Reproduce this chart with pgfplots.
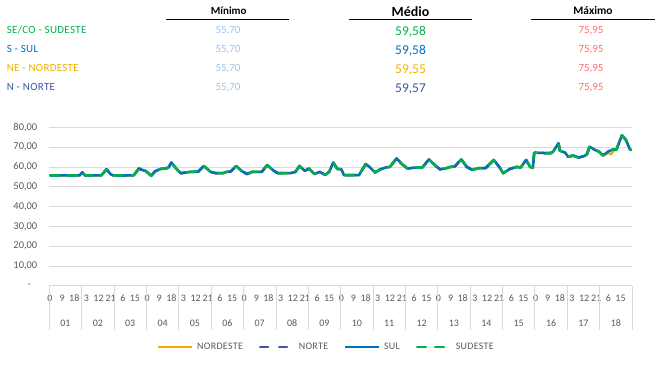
\documentclass[border=0pt]{standalone}
\usepackage{fontspec}
\setmainfont{Carlito}
\newfontfamily\spaced{Carlito}[LetterSpace=3]
\usepackage{pgfplots}
\pgfplotsset{compat=1.18}
\usepackage{pgfplotstable}

\definecolor{cse}{HTML}{00B050}
\definecolor{cs}{HTML}{0070C0}
\definecolor{cne}{HTML}{F0B000}
\definecolor{cn}{HTML}{3A56A4}
\definecolor{cmin}{HTML}{9DC3E6}
\definecolor{cmax}{HTML}{FF6B6B}
\definecolor{ctick}{HTML}{595959}
\definecolor{cgrid}{HTML}{D9D9D9}

\pgfplotstableread{
h ne n s se
0 55.7 55.7 55.7 55.7
22 55.7 55.7 55.7 55.7
24 57.3 57.3 57.3 57.3
26 55.7 55.7 55.7 55.7
38 55.7 55.7 55.7 55.7
42 58.8 58.8 58.8 58.8
45 56.3 56.3 56.3 56.3
47 55.7 55.7 55.7 55.7
62 55.7 55.7 55.7 55.7
66 59.2 59.2 59.2 59.2
69 58.3 58.3 58.3 58.3
71 58.0 58.0 58.0 58.0
75 55.5 55.5 55.5 55.5
78 57.8 57.8 57.8 57.8
82 59.0 59.0 59.0 59.0
86 59.2 59.2 59.2 59.2
88 59.8 59.8 59.8 59.8
90 62.2 62.2 62.2 62.2
94 58.8 58.8 58.8 58.8
97 56.8 56.8 56.8 56.8
104 57.5 57.5 57.5 57.5
110 57.6 57.6 57.6 57.6
114 60.5 60.5 60.5 60.5
119 57.5 57.5 57.5 57.5
123 56.8 56.8 56.8 56.8
128 56.8 56.8 56.8 56.8
131 57.5 57.5 57.5 57.5
134 57.7 57.7 57.7 57.7
138 60.5 60.5 60.5 60.5
142 58.0 58.0 58.0 58.0
146 56.4 56.4 56.4 56.4
150 57.5 57.5 57.5 57.5
157 57.5 57.5 57.5 57.5
161 60.9 60.9 60.9 60.9
166 58.0 58.0 58.0 58.0
169 56.8 56.8 56.8 56.8
178 56.8 56.8 56.8 56.8
182 57.5 57.5 57.5 57.5
185 60.5 60.5 60.5 60.5
189 58.0 58.0 58.0 58.0
192 59.2 59.2 59.2 59.2
196 56.4 56.4 56.4 56.4
200 57.5 57.5 57.5 57.5
204 56.0 56.0 56.0 56.0
207 57.5 57.5 57.5 57.5
210 62.2 62.2 62.2 62.2
213 59.0 59.0 59.0 59.0
216 58.8 58.8 58.8 58.8
218 55.8 55.8 55.8 55.8
229 55.8 55.8 55.8 55.8
234 61.4 61.4 61.4 61.4
237 60.0 60.0 60.0 60.0
241 57.2 57.2 57.2 57.2
245 58.8 58.8 58.8 58.8
249 59.7 59.7 59.7 59.7
252 60.0 60.0 60.0 60.0
257 64.3 64.3 64.3 64.3
261 61.4 61.4 61.4 61.4
265 59.2 59.2 59.2 59.2
271 59.7 59.7 59.7 59.7
276 59.7 59.7 59.7 59.7
281 63.8 63.8 63.8 63.8
286 60.5 60.5 60.5 60.5
289 58.8 58.8 58.8 58.8
293 59.2 59.2 59.2 59.2
297 60.0 60.0 60.0 60.0
300 60.2 60.2 60.2 60.2
305 63.8 63.8 63.8 63.8
309 60.0 60.0 60.0 60.0
313 58.5 58.5 58.5 58.5
318 59.4 59.4 59.4 59.4
323 59.4 59.4 59.4 59.4
329 63.5 63.5 63.5 63.5
333 60.1 60.1 60.1 60.1
336 56.8 56.8 56.8 56.8
341 59.0 59.0 59.0 59.0
346 60.0 60.0 60.0 60.0
349 59.7 59.7 59.7 59.7
353 63.5 63.5 63.5 63.5
356 60.0 60.0 60.0 60.0
358 59.5 59.5 59.5 59.5
359 67.2 67.2 67.2 67.2
371 66.9 66.9 66.9 66.9
373 67.7 67.7 67.7 67.7
377 71.9 71.9 71.9 71.9
378 68.2 68.2 68.2 68.2
382 67.2 67.2 67.2 67.2
384 65.2 65.2 65.2 65.2
388 65.7 65.7 65.7 65.7
392 64.7 64.7 64.7 64.7
396 65.5 65.5 65.5 65.5
398 66.3 66.3 66.3 66.3
400 70.2 70.2 70.2 70.2
404 68.6 68.6 68.6 68.6
407 67.7 67.7 67.7 67.7
410 65.8 65.8 65.8 65.8
414 67.0 67.9 67.9 67.9
416 66.4 68.4 68.4 68.4
418 68.3 68.9 68.9 68.9
420 68.8 68.8 68.8 68.8
424 75.95 75.95 75.95 75.95
427 73.6 73.6 73.6 73.6
430 68.8 68.8 68.8 68.8
431 68.5 68.5 68.5 68.5
}\data

\begin{document}
\begin{tikzpicture}
\path[use as bounding box] (0,0) rectangle (655bp,-382bp);

% header table
\node[anchor=base, font=\bfseries\fontsize{11}{13}\selectfont] at (228.7bp,-14.7bp) {Mínimo};
\node[anchor=base, font=\bfseries\fontsize{14}{16}\selectfont] at (410.5bp,-16.7bp) {Médio};
\node[anchor=base, font=\bfseries\fontsize{11.5}{13}\selectfont] at (593bp,-14.4bp) {Máximo};
\draw[line width=0.9bp] (166bp,-19.3bp) -- (288.7bp,-19.3bp);
\draw[line width=0.9bp] (349bp,-19.3bp) -- (471.7bp,-19.3bp);
\draw[line width=0.9bp] (531bp,-19.3bp) -- (655bp,-19.3bp);

\begin{scope}[font=\spaced\fontsize{11}{13}\selectfont]
\node[anchor=base west, text=cse] at (3.3bp,-33.6bp) {SE/CO - SUDESTE};
\node[anchor=base west, text=cs]  at (3.3bp,-52.9bp) {S - SUL};
\node[anchor=base west, text=cne] at (3.3bp,-71.9bp) {NE - NORDESTE};
\node[anchor=base west, text=cn]  at (3.3bp,-90.9bp) {N - NORTE};
\end{scope}
\begin{scope}[font=\fontsize{11}{13}\selectfont]
\foreach \yy in {33.6,52.9,71.9,90.9}{
  \node[anchor=base, text=cmin] at (228bp,-\yy bp) {55,70};
  \node[anchor=base, text=cmax] at (591bp,-\yy bp) {75,95};
}
\end{scope}
\begin{scope}[font=\fontsize{13.5}{15}\selectfont]
\node[anchor=base, text=cse] at (410.5bp,-35bp) {59,58};
\node[anchor=base, text=cs]  at (410.5bp,-54.3bp) {59,58};
\node[anchor=base, text=cne] at (410.5bp,-73.3bp) {59,55};
\node[anchor=base, text=cn]  at (410.5bp,-92.3bp) {59,57};
\end{scope}

\begin{axis}[
  at={(49.3bp,-285.7bp)}, anchor=south west,
  scale only axis, width=582.7bp, height=158.4bp,
  xmin=-0.5, xmax=431.5, ymin=0, ymax=80,
  axis line style={draw=none},
  ymajorgrids, grid style={cgrid, line width=0.8bp},
  major tick length=0pt,
  ytick={0,10,...,80},
  yticklabels={{-\hspace*{6.3bp}},{10,00},{20,00},{30,00},{40,00},{50,00},{60,00},{70,00},{80,00}},
  yticklabel style={font=\fontsize{10.5}{12}\selectfont, text=ctick, anchor=east, xshift=-8.5bp},
  xtick={0,9,...,423},
  xticklabels={0,9,18,3,12,21,6,15,0,9,18,3,12,21,6,15,0,9,18,3,12,21,6,15,0,9,18,3,12,21,6,15,0,9,18,3,12,21,6,15,0,9,18,3,12,21,6,15},
  xticklabel style={font=\fontsize{10}{12}\selectfont, text=ctick, anchor=base, yshift=-15.8bp},
  legend style={at={(0.4757,-0.387)}, anchor=center, draw=none, fill=none,
    font=\spaced\fontsize{10}{12}\selectfont, text=ctick, legend columns=4,
    /tikz/every even column/.append style={column sep=14bp},
    /tikz/every odd column/.append style={column sep=1.5bp}},
  legend image code/.code={\draw[#1] (0bp,0bp) -- (34bp,0bp);},
  legend cell align=left,
]
\addplot[cne, line width=2.5bp, line join=round] table[x=h, y=ne] {\data};
\addlegendentry{NORDESTE}
\addplot[cn, line width=2.5bp, line join=round, line cap=round, dash pattern=on 8bp off 11bp] table[x=h, y=n] {\data};
\addlegendentry{NORTE}
\addplot[cs, line width=2.5bp, line join=round] table[x=h, y=s] {\data};
\addlegendentry{SUL}
\addplot[cse, line width=2.5bp, line join=round, line cap=round, dash pattern=on 9bp off 9bp] table[x=h, y=se] {\data};
\addlegendentry{SUDESTE}
\end{axis}

% day separators and labels
\foreach \k in {0,...,18}{
  \draw[cgrid, line width=0.8bp] (49.3bp+\k*32.372bp,-285.7bp) -- ++(0,-44.5bp);
}
\foreach \lab [count=\k from 0] in {01,02,03,04,05,06,07,08,09,10,11,12,13,14,15,16,17,18}{
  \node[anchor=base, font=\fontsize{10}{12}\selectfont, text=ctick] at (49.3bp+\k*32.372bp+16.186bp,-326.5bp) {\lab};
}
\end{tikzpicture}
\end{document}
